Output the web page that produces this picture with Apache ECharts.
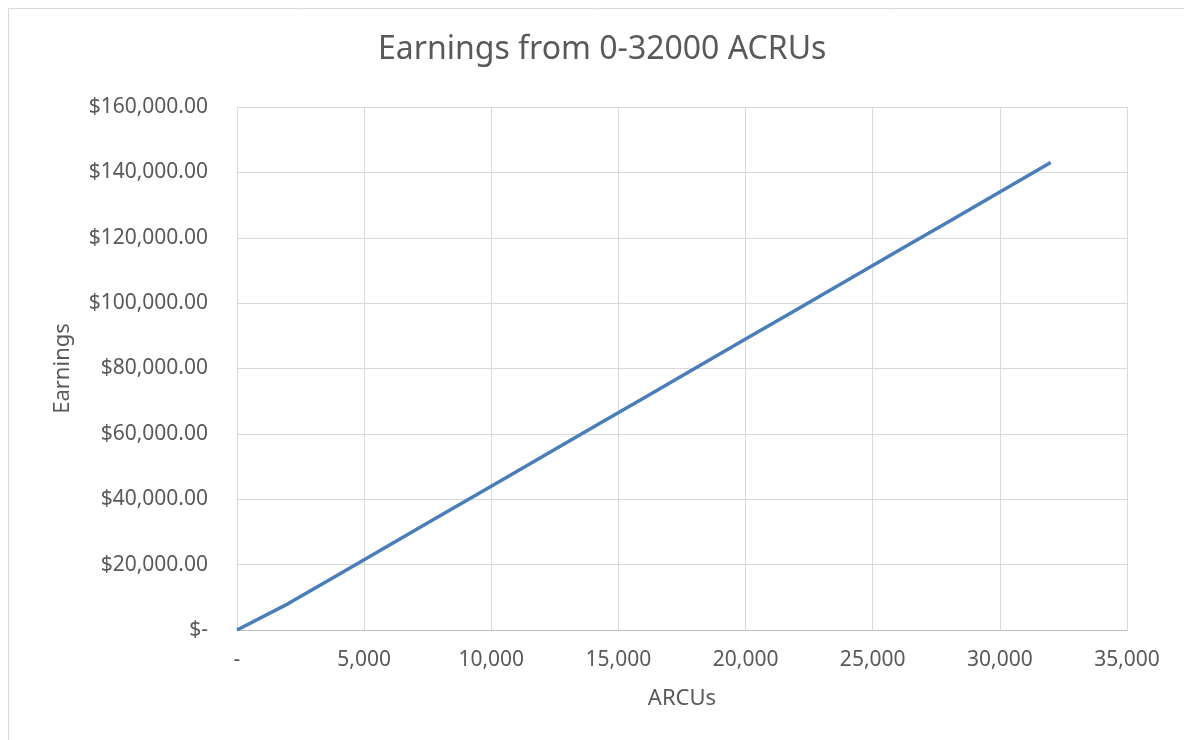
<!DOCTYPE html>
<html>
<head>
<meta charset="utf-8">
<script src="https://cdn.jsdelivr.net/npm/echarts@6/dist/echarts.min.js"></script>
<style>
html,body{margin:0;padding:0;background:#fff;}
#main{width:1184px;height:740px;}
</style>
</head>
<body>
<div id="main"></div>
<script>
var titleText = 'Earnings from 0-32000 ACRUs';
var xAxisName = 'ARCUs';
var yAxisName = 'Earnings';
var acrus = [0, 2000, 4000, 6000, 8000, 10000, 12000, 14000, 16000, 18000, 20000, 22000, 24000, 26000, 28000, 30000, 32000];
var earnings = [0, 8000, 17000, 26000, 35000, 44000, 53000, 62000, 71000, 80000, 89000, 98000, 107000, 116000, 125000, 134000, 143000];

var chart = echarts.init(document.getElementById('main'), null, {renderer: 'canvas'});
var textColor = '#595959';
var fontFamily = '"Noto Sans", "Open Sans", sans-serif';

function fmtMoney(v) {
  if (v === 0) return '$-';
  return '$' + v.toLocaleString('en-US', {minimumFractionDigits: 2, maximumFractionDigits: 2});
}
function fmtNum(v) {
  if (v === 0) return '-';
  return v.toLocaleString('en-US');
}

var option = {
  animation: false,
  backgroundColor: '#fff',
  graphic: [{
    type: 'rect',
    shape: {x: 8.5, y: 8.5, width: 1200, height: 760},
    style: {fill: 'none', stroke: '#d9d9d9', lineWidth: 1},
    silent: true
  }],
  title: {
    text: titleText,
    left: 378,
    top: 34,
    padding: 0,
    textStyle: {color: textColor, fontFamily: fontFamily, fontWeight: 'normal', fontSize: 32}
  },
  grid: {left: 237, right: 57, top: 107, bottom: 110, containLabel: false},
  xAxis: {
    type: 'value',
    min: 0, max: 35000, interval: 5000,
    name: xAxisName,
    nameLocation: 'middle',
    nameGap: 58,
    nameTextStyle: {color: textColor, fontFamily: fontFamily, fontSize: 22},
    axisLine: {show: true, lineStyle: {color: '#bfbfbf', width: 1}},
    axisTick: {show: false},
    splitLine: {show: true, lineStyle: {color: '#d9d9d9', width: 1}},
    axisLabel: {color: textColor, fontFamily: fontFamily, fontSize: 21, margin: 20, formatter: fmtNum}
  },
  yAxis: {
    type: 'value',
    min: 0, max: 160000, interval: 20000,
    name: yAxisName,
    nameLocation: 'middle',
    nameGap: 163,
    nameRotate: 90,
    nameTextStyle: {color: textColor, fontFamily: fontFamily, fontSize: 22},
    axisLine: {show: false},
    axisTick: {show: false},
    splitLine: {show: true, lineStyle: {color: '#d9d9d9', width: 1}},
    axisLabel: {color: textColor, fontFamily: fontFamily, fontSize: 21, margin: 29, formatter: fmtMoney}
  },
  series: [{
    type: 'line',
    data: acrus.map(function (x, i) { return [x, earnings[i]]; }),
    showSymbol: false,
    lineStyle: {color: '#4a7ebb', width: 3.5},
    itemStyle: {color: '#4a7ebb'}
  }]
};
chart.setOption(option);
</script>
</body>
</html>
